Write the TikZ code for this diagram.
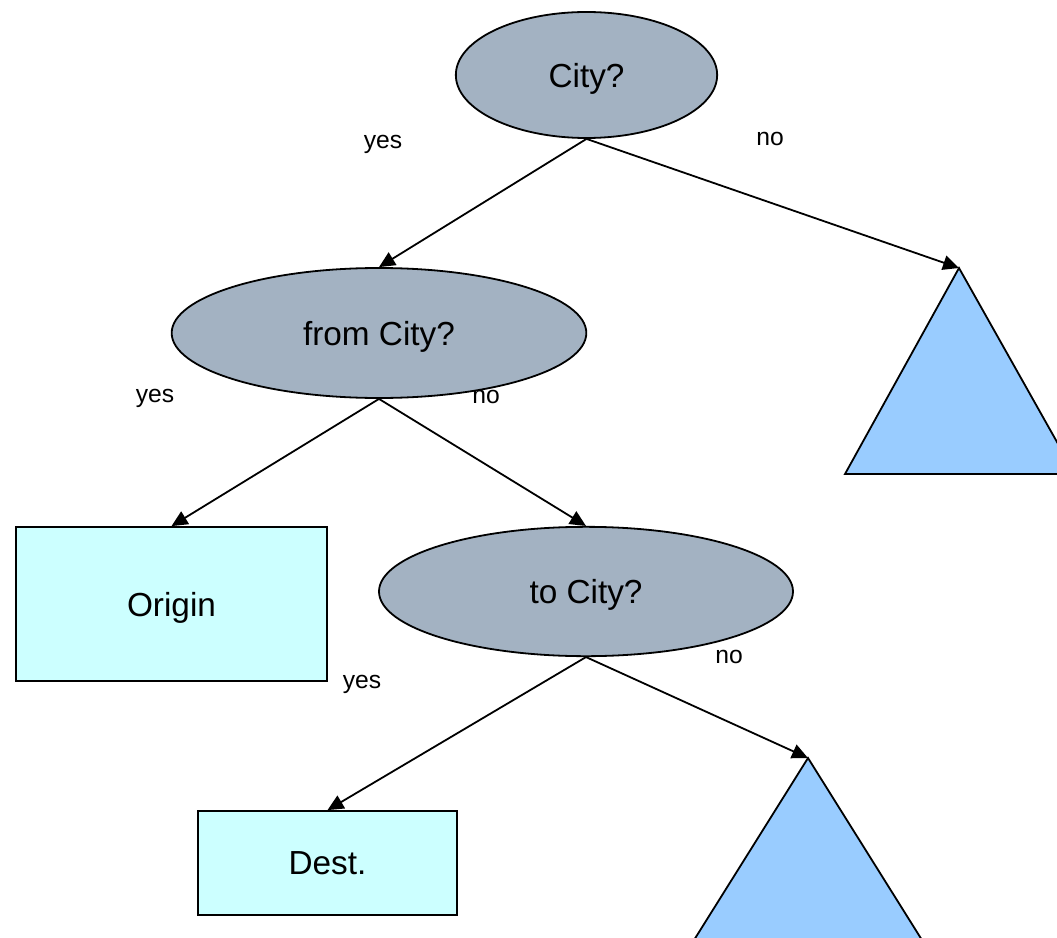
\documentclass[tikz,border=0pt]{standalone}
\usepackage{fontspec}
\setmainfont{Liberation Sans}
\usetikzlibrary{shapes, arrows.meta}
\definecolor{askgray}{HTML}{A3B2C2}
\definecolor{leafcyan}{HTML}{CCFFFF}
\definecolor{subblue}{HTML}{99CCFF}
\tikzstyle{question}=[draw,fill=askgray,ellipse,inner sep=0pt,text depth=0pt,font=\fontsize{25}{30}\selectfont]
\tikzstyle{leaf}=[draw,fill=leafcyan,rectangle,inner sep=0pt,text depth=0pt,font=\fontsize{25}{30}\selectfont]
\tikzstyle{subtree}=[draw,fill=subblue,line join=miter]
\tikzstyle{answer}=[text depth=0pt,font=\fontsize{18.5}{22}\selectfont]

\begin{document}
\begin{tikzpicture}[x=0.75pt,y=-0.75pt,line width=1.35pt,>={Triangle[length=12pt,width=11pt]}]
    \clip (0,0) rectangle (1057,938);
    \node[question,minimum width=196pt,minimum height=94.5pt] (city) at (586.5,75) {City?};
    \node[question,minimum width=311pt,minimum height=97.5pt] (fromcity) at (379,333) {from City?};
    \node[question,minimum width=310.5pt,minimum height=97pt] (tocity) at (586,591.5) {to City?};
    \node[leaf,minimum width=233pt,minimum height=115.5pt] (origin) at (171.5,604) {Origin};
    \node[leaf,minimum width=194pt,minimum height=78pt] (dest) at (327.5,863) {Dest.};
    % subtrees
    \draw[subtree] (959,268) coordinate (rest1) -- (1075,474) -- (845,474) -- cycle;
    \draw[subtree] (808,758) coordinate (rest2) -- (947,980) -- (669,980) -- cycle;
    \node[answer] (yes1) at (383,142) {yes};
    \node[answer] (no1) at (770,139) {no};
    \node[answer] (yes2) at (155,396) {yes};
    \node[answer] (no2) at (486,397) {no};
    \node[answer] (yes3) at (362,682) {yes};
    \node[answer] (no3) at (729,657) {no};
    \draw[->] (city.south) -- (fromcity.north);
    \draw[->] (city.south) -- (rest1);
    \draw[->] (fromcity.south) -- (origin.north);
    \draw[->] (fromcity.south) -- (tocity.north);
    \draw[->] (tocity.south) -- (dest.north);
    \draw[->] (tocity.south) -- (rest2);
\end{tikzpicture}
\end{document}
